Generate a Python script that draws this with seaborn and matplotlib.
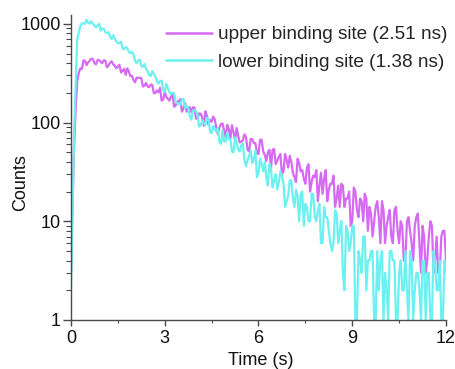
import numpy as np
import pandas as pd
import matplotlib
matplotlib.use("Agg")
import matplotlib.pyplot as plt
from matplotlib.ticker import FixedLocator, FixedFormatter, LogLocator, NullFormatter
import seaborn as sns

# time bins (s) read on the 0.1 grid and the in-between 0.05 offsets
time_grid = [0.0, 0.1, 0.2, 0.3, 0.4, 0.5, 0.6, 0.7, 0.8, 0.9,
             1.0, 1.1, 1.2, 1.3, 1.4, 1.5, 1.6, 1.7, 1.8, 1.9,
             2.0, 2.1, 2.2, 2.3, 2.4, 2.5, 2.6, 2.7, 2.8, 2.9,
             3.0, 3.1, 3.2, 3.3, 3.4, 3.5, 3.6, 3.7, 3.8, 3.9,
             4.0, 4.1, 4.2, 4.3, 4.4, 4.5, 4.6, 4.7, 4.8, 4.9,
             5.0, 5.1, 5.2, 5.3, 5.4, 5.5, 5.6, 5.7, 5.8, 5.9,
             6.0, 6.1, 6.2, 6.3, 6.4, 6.5, 6.6, 6.7, 6.8, 6.9,
             7.0, 7.1, 7.2, 7.3, 7.4, 7.5, 7.6, 7.7, 7.8, 7.9,
             8.0, 8.1, 8.2, 8.3, 8.4, 8.5, 8.6, 8.7, 8.8, 8.9,
             9.0, 9.1, 9.2, 9.3, 9.4, 9.5, 9.6, 9.7, 9.8, 9.9,
             10.0, 10.1, 10.2, 10.3, 10.4, 10.5, 10.6, 10.7, 10.8, 10.9,
             11.0, 11.1, 11.2, 11.3, 11.4, 11.5, 11.6, 11.7, 11.8, 11.9, 12.0]

time_mid = [0.05, 0.15, 0.25, 0.35, 0.45, 0.55, 0.65, 0.75, 0.85, 0.95,
            1.05, 1.15, 1.25, 1.35, 1.45, 1.55, 1.65, 1.75, 1.85, 1.95,
            2.05, 2.15, 2.25, 2.35, 2.45, 2.55, 2.65, 2.75, 2.85, 2.95,
            3.05, 3.15, 3.25, 3.35, 3.45, 3.55, 3.65, 3.75, 3.85, 3.95,
            4.05, 4.15, 4.25, 4.35, 4.45, 4.55, 4.65, 4.75, 4.85, 4.95,
            5.05, 5.15, 5.25, 5.35, 5.45, 5.55, 5.65, 5.75, 5.85, 5.95,
            6.05, 6.15, 6.25, 6.35, 6.45, 6.55, 6.65, 6.75, 6.85, 6.95,
            7.05, 7.15, 7.25, 7.35, 7.45, 7.55, 7.65, 7.75, 7.85, 7.95,
            8.05, 8.15, 8.25, 8.35, 8.45, 8.55, 8.65, 8.75, 8.85, 8.95,
            9.05, 9.15, 9.25, 9.35, 9.45, 9.55, 9.65, 9.75, 9.85, 9.95,
            10.05, 10.15, 10.25, 10.35, 10.45, 10.55, 10.65, 10.75, 10.85, 10.95,
            11.05, 11.15, 11.25, 11.35, 11.45, 11.55, 11.65, 11.75, 11.85, 11.95]

upper_grid = [3, 60, 264, 354, 427, 382, 424, 440, 390, 430,
              400, 423, 377, 418, 376, 371, 322, 351, 354, 295,
              270, 285, 283, 232, 252, 228, 241, 199, 203, 167,
              204, 174, 184, 145, 162, 173, 139, 129, 143, 143,
              110, 124, 112, 130, 95, 102, 108, 76, 97, 82,
              95, 69, 80, 88, 63, 66, 71, 51, 68, 62,
              48, 67, 47, 50, 35, 54, 41, 48, 32, 42,
              46, 31, 25, 39, 33, 24, 38, 25, 28, 16,
              31, 27, 16, 24, 29, 17, 14, 23, 17, 20,
              10, 20, 11, 16, 19, 8, 12, 10, 16, 6,
              13, 9, 13, 6, 14, 6, 9, 4, 11, 6,
              9, 12, 3, 7, 4, 10, 3, 7, 3, 8, 4]

upper_mid = [15, 140, 319, 349, 420, 409, 445, 400, 431, 412,
             428, 363, 403, 390, 355, 385, 334, 304, 330, 299,
             256, 284, 282, 236, 232, 243, 199, 212, 225, 171,
             182, 167, 190, 149, 165, 129, 157, 142, 128, 142,
             109, 123, 93, 117, 106, 115, 88, 89, 98, 71,
             86, 94, 66, 73, 64, 76, 53, 68, 62, 49,
             67, 51, 41, 53, 53, 38, 45, 30, 48, 35,
             40, 28, 43, 32, 27, 35, 20, 29, 33, 23,
             19, 33, 21, 24, 14, 23, 24, 14, 17, 9,
             22, 13, 17, 10, 17, 14, 7, 14, 11, 16,
             6, 11, 7, 13, 8, 10, 4, 10, 8, 4,
             11, 6, 9, 3, 7, 9, 4, 3, 7, 8]

lower_grid = [2, 80, 700, 951, 1008, 1099, 1008, 1006, 926, 998,
              898, 823, 824, 701, 708, 637, 660, 554, 568, 505,
              490, 399, 434, 366, 351, 303, 332, 291, 248, 265,
              205, 224, 194, 199, 156, 152, 173, 147, 117, 133,
              131, 91, 106, 94, 109, 78, 86, 88, 61, 64,
              79, 68, 50, 64, 51, 61, 36, 46, 39, 52,
              31, 38, 40, 23, 34, 26, 21, 32, 24, 16,
              26, 17, 21, 10, 20, 15, 10, 19, 11, 13,
              6, 14, 11, 6, 6, 12, 8, 3, 9, 5,
              9, 1, 5, 3, 7, 4, 5, 1, 5, 4,
              1, 2, 5, 4, 1, 3, 2, 5, 1, 4,
              2, 3, 1, 4, 3, 1, 5, 2, 4, 1, 3]

lower_mid = [12, 250, 821, 1012, 1003, 1024, 1063, 957, 967, 856,
             892, 806, 739, 768, 663, 640, 565, 583, 521, 520,
             419, 425, 376, 393, 332, 296, 310, 261, 264, 213,
             247, 203, 201, 162, 154, 174, 140, 141, 107, 133,
             119, 94, 100, 112, 81, 92, 81, 63, 83, 64,
             68, 51, 71, 53, 59, 42, 42, 52, 42, 28,
             43, 32, 28, 38, 22, 30, 25, 29, 14, 18,
             26, 14, 18, 19, 9, 14, 10, 19, 10, 15,
             6, 11, 8, 5, 13, 6, 10, 2, 8, 6,
             9, 1, 4, 7, 2, 4, 5, 1, 2, 5,
             3, 1, 5, 4, 1, 4, 2, 2, 5, 1,
             3, 2, 4, 1, 3, 1, 4, 2, 1, 4]

series_names = ["upper binding site (2.51 ns)", "lower binding site (1.38 ns)"]
x_ticks = [0, 3, 6, 9, 12]
x_minor = [1.5, 4.5, 7.5, 10.5]
y_ticks = [1, 10, 100, 1000]
y_tick_labels = ["1", "10", "100", "1000"]

parts = []
for name, grid_vals, mid_vals in [(series_names[0], upper_grid, upper_mid),
                                  (series_names[1], lower_grid, lower_mid)]:
    parts.append(pd.DataFrame({"Time": time_grid, "Counts": grid_vals, "site": name}))
    parts.append(pd.DataFrame({"Time": time_mid, "Counts": mid_vals, "site": name}))
df = pd.concat(parts, ignore_index=True).sort_values(["Time"], kind="stable")

sns.set_style("ticks")
plt.rcParams["font.family"] = ["Liberation Sans", "DejaVu Sans"]

FS = 13
fig = plt.figure(figsize=(4.56, 3.69), dpi=100)
ax = fig.add_axes([71 / 456, 1 - 320 / 369, (446 - 71) / 456, (320 - 15) / 369])

palette = {series_names[0]: "#D66AF2", series_names[1]: "#6CF1F0"}
sns.lineplot(data=df, x="Time", y="Counts", hue="site", hue_order=series_names,
             palette=palette, estimator=None, sort=True, lw=1.6, ax=ax)

ax.set_yscale("log")
ax.set_xlim(0, 12)
ax.set_ylim(1, 1230)

ax.xaxis.set_major_locator(FixedLocator(x_ticks))
ax.xaxis.set_minor_locator(FixedLocator(x_minor))
ax.yaxis.set_major_locator(FixedLocator(y_ticks))
ax.yaxis.set_major_formatter(FixedFormatter(y_tick_labels))
ax.yaxis.set_minor_locator(LogLocator(base=10, subs=np.arange(2, 10)))
ax.yaxis.set_minor_formatter(NullFormatter())

for s in ["top", "right"]:
    ax.spines[s].set_visible(False)
for s in ["left", "bottom"]:
    ax.spines[s].set_color("#4a4a4a")
    ax.spines[s].set_linewidth(1.0)

ax.tick_params(axis="y", which="major", direction="out", length=6, width=1,
               color="#4a4a4a", labelsize=FS, pad=1.5, labelcolor="#111111")
ax.tick_params(axis="y", which="minor", direction="out", length=3.5, width=0.8,
               color="#4a4a4a")
ax.tick_params(axis="x", which="major", direction="out", length=4.5, width=1,
               color="#4a4a4a", labelsize=FS, pad=2.5, labelcolor="#111111")
ax.tick_params(axis="x", which="minor", direction="out", length=2.5, width=0.8,
               color="#4a4a4a")

ax.set_xlabel("Time (s)", fontsize=FS, color="#111111")
ax.set_ylabel("Counts", fontsize=FS, color="#111111")
ax.xaxis.set_label_coords(0.505, -0.105)
ax.yaxis.set_label_coords(-0.112, 0.45)

leg = ax.legend(loc="upper right", bbox_to_anchor=(1.004, 0.964), frameon=False,
                fontsize=13.7, handlelength=2.45, handletextpad=0.3, labelspacing=0.52,
                borderpad=0.0, borderaxespad=0)
for h in leg.legend_handles:
    h.set_linewidth(1.8)

fig.savefig("out.png", dpi=100)
